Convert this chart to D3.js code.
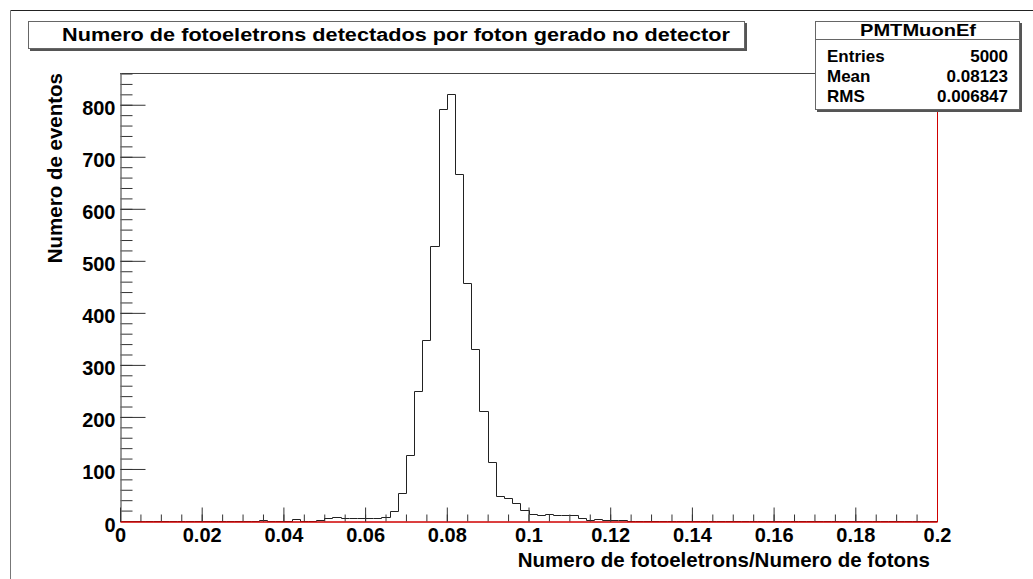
<!DOCTYPE html>
<html>
<head>
<meta charset="utf-8">
<script src="https://cdn.jsdelivr.net/npm/d3@7"></script>
<style>
  body { margin: 0; background: #fff; }
  svg text { font-family: "Liberation Sans", Arial, sans-serif; font-weight: bold; }
</style>
</head>
<body>
<svg id="chart" width="1033" height="579"></svg>
<script>
// histogram PMTMuonEf : 100 bins from 0 to 0.2
const binLow = 0, binHigh = 0.2;
const binCounts = [
  0, 0, 0, 0, 0, 0, 0, 0, 0, 0,
  0, 0, 0, 0, 0, 0, 0, 1, 0, 0,
  0, 3, 0, 0, 1, 5, 8, 5, 5, 5,
  5, 5, 8, 19, 53, 127, 249, 347, 529, 792,
  820, 666, 457, 330, 211, 113, 48, 45, 34, 22,
  14, 12, 14, 12, 12, 12, 5, 2, 4, 1,
  1, 1, 0, 0, 0, 0, 0, 0, 0, 0,
  0, 0, 0, 0, 0, 0, 0, 0, 0, 0,
  0, 0, 0, 0, 0, 0, 0, 0, 0, 0,
  0, 0, 0, 0, 0, 0, 0, 0, 0, 0
];
const yMax = 861;

const xTicks = [0, 0.02, 0.04, 0.06, 0.08, 0.1, 0.12, 0.14, 0.16, 0.18, 0.2];
const xTickLabels = ["0", "0.02", "0.04", "0.06", "0.08", "0.1", "0.12", "0.14", "0.16", "0.18", "0.2"];
const yTicks = [0, 100, 200, 300, 400, 500, 600, 700, 800];

const title = "Numero de fotoeletrons detectados por foton gerado no detector";
const xTitle = "Numero de fotoeletrons/Numero de fotons";
const yTitle = "Numero de eventos";
const statsName = "PMTMuonEf";
const statsLabels = ["Entries", "Mean", "RMS"];
const statsValues = ["5000", "0.08123", "0.006847"];

const svg = d3.select("#chart");

// pad border
svg.append("line").attr("x1", 10.5).attr("y1", 10.5).attr("x2", 1040).attr("y2", 10.5)
  .attr("stroke", "#222");
svg.append("line").attr("x1", 10.5).attr("y1", 10.5).attr("x2", 10.5).attr("y2", 600)
  .attr("stroke", "#777");

const plotL = 120, plotR = 937, plotT = 73, plotB = 521;
const x = d3.scaleLinear([binLow, binHigh], [plotL, plotR]);
const y = d3.scaleLinear([0, yMax], [plotB, plotT]);

// frame top
svg.append("line").attr("x1", plotL).attr("x2", plotR).attr("y1", plotT + 0.5).attr("y2", plotT + 0.5)
  .attr("stroke", "#444");

// histogram outline
const binWidth = (binHigh - binLow) / binCounts.length;
let pts = [[binLow, 0]];
binCounts.forEach((c, i) => {
  pts.push([binLow + i * binWidth, c]);
  pts.push([binLow + (i + 1) * binWidth, c]);
});
pts.push([binHigh, 0]);
const line = d3.line().x(d => Math.round(x(d[0])) + 0.5).y(d => Math.round(y(d[1])) + 0.5);
svg.append("path").attr("d", line(pts)).attr("fill", "none")
  .attr("stroke", "#222").attr("stroke-width", 1);

// y axis: minor then major ticks
const yMinor = svg.append("g").attr("transform", `translate(${plotL + 0.5},0)`)
  .call(d3.axisLeft(y).tickValues(d3.range(0, 861, 20)).tickSize(-12).tickSizeOuter(0).tickFormat(""));
const yAxis = svg.append("g").attr("transform", `translate(${plotL + 0.5},0)`)
  .call(d3.axisLeft(y).tickValues(yTicks).tickSize(-25).tickSizeOuter(0).tickPadding(5));
yAxis.selectAll("text").attr("font-size", 20).attr("dy", "0.5em").attr("fill", "#000");
[yMinor, yAxis].forEach(g => {
  g.select(".domain").attr("stroke", "#777");
  g.selectAll(".tick line").attr("stroke", "#333");
});

// x axis: minor then major ticks
const xMinor = svg.append("g").attr("transform", `translate(0,${plotB + 0.5})`)
  .call(d3.axisBottom(x).tickValues(d3.range(0, 41).map(i => i * 0.005)).tickSize(-7).tickSizeOuter(0).tickFormat(""));
const xAxis = svg.append("g").attr("transform", `translate(0,${plotB + 0.5})`)
  .call(d3.axisBottom(x).tickValues(xTicks).tickSize(-14).tickSizeOuter(0).tickPadding(6)
    .tickFormat((d, i) => xTickLabels[i]));
xAxis.selectAll("text").attr("font-size", 20).attr("fill", "#000");
[xMinor, xAxis].forEach(g => {
  g.select(".domain").attr("stroke", "#d00000");
  g.selectAll(".tick line").attr("stroke", "#333");
});

// right frame edge (red)
svg.append("line").attr("x1", plotR + 0.5).attr("x2", plotR + 0.5).attr("y1", plotT).attr("y2", plotB + 1)
  .attr("stroke", "#d00000");

// axis titles
svg.append("text").attr("x", 930).attr("y", 567).attr("text-anchor", "end")
  .attr("font-size", 20.5).text(xTitle);
svg.append("text").attr("transform", "translate(62,73) rotate(-90)").attr("text-anchor", "end")
  .attr("font-size", 20.5).text(yTitle);

// title box
svg.append("rect").attr("x", 30).attr("y", 23).attr("width", 717).attr("height", 28).attr("fill", "#555");
svg.append("rect").attr("x", 28.5).attr("y", 21.5).attr("width", 716).attr("height", 27)
  .attr("fill", "#fff").attr("stroke", "#666");
svg.append("text").attr("x", 62).attr("y", 41).attr("font-size", 18)
  .attr("textLength", 668).attr("lengthAdjust", "spacingAndGlyphs").text(title);

// stats box
svg.append("rect").attr("x", 817).attr("y", 23).attr("width", 205).attr("height", 89).attr("fill", "#555");
svg.append("rect").attr("x", 815.5).attr("y", 21.5).attr("width", 204).attr("height", 88)
  .attr("fill", "#fff").attr("stroke", "#666");
svg.append("line").attr("x1", 815.5).attr("x2", 1019.5).attr("y1", 39.5).attr("y2", 39.5).attr("stroke", "#666");
svg.append("text").attr("x", 918).attr("y", 36).attr("text-anchor", "middle").attr("font-size", 16.5)
  .attr("textLength", 116).attr("lengthAdjust", "spacingAndGlyphs").text(statsName);
const rowY = [62, 82, 102];
svg.selectAll("text.slab").data(statsLabels).enter().append("text").attr("class", "slab")
  .attr("x", 827).attr("y", (d, i) => rowY[i]).attr("font-size", 17).text(d => d);
svg.selectAll("text.sval").data(statsValues).enter().append("text").attr("class", "sval")
  .attr("x", 1008).attr("y", (d, i) => rowY[i]).attr("text-anchor", "end").attr("font-size", 17).text(d => d);
</script>
</body>
</html>
